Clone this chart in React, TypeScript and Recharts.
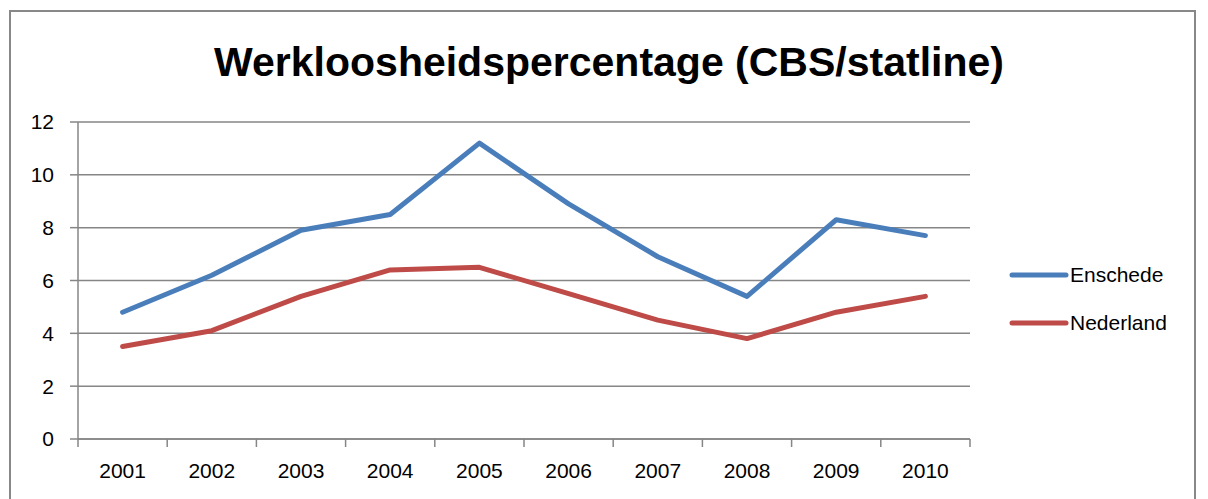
import React from 'react';
import { LineChart, Line, XAxis, YAxis, CartesianGrid } from 'recharts';

const years = ['2001', '2002', '2003', '2004', '2005', '2006', '2007', '2008', '2009', '2010'];
const enschede = [4.8, 6.2, 7.9, 8.5, 11.2, 8.9, 6.9, 5.4, 8.3, 7.7];
const nederland = [3.5, 4.1, 5.4, 6.4, 6.5, 5.5, 4.5, 3.8, 4.8, 5.4];
const yTicks = [0, 2, 4, 6, 8, 10, 12];

const data = years.map((year, i) => ({
    year,
    Enschede: enschede[i],
    Nederland: nederland[i],
}));

const series = [
    { name: 'Enschede', color: '#4A7EBB' },
    { name: 'Nederland', color: '#BE4B48' },
];

const FONT = '"Liberation Sans", Arial, sans-serif';
const AXIS = '#868686';
const PLOT_LEFT = 78;
const PLOT_RIGHT = 970;
const BAND = (PLOT_RIGHT - PLOT_LEFT) / years.length;

const XTick = (props: any) => {
    const { x, y, payload, index } = props;
    const left = x - BAND / 2;
    return (
        <g>
            <line x1={left} y1={y - 8} x2={left} y2={y} stroke={AXIS} strokeWidth={1.5} />
            {index === years.length - 1 && (
                <line x1={x + BAND / 2} y1={y - 8} x2={x + BAND / 2} y2={y} stroke={AXIS} strokeWidth={1.5} />
            )}
            <text x={x} y={y + 31} textAnchor="middle" fontSize={21} fill="#000" fontFamily={FONT}>
                {payload.value}
            </text>
        </g>
    );
};

const App: React.FC = () => {
    return (
        <div style={{ position: 'absolute', left: 0, top: 0, width: 1208, height: 499, background: '#fff', overflow: 'hidden' }}>
            <div
                style={{
                    position: 'absolute',
                    left: 9,
                    top: 10,
                    width: 1187,
                    height: 520,
                    border: '2px solid #888',
                    boxSizing: 'border-box',
                }}
            />
            <div
                style={{
                    position: 'absolute',
                    left: 0,
                    width: 1208,
                    top: 35,
                    textAlign: 'center',
                    fontFamily: FONT,
                    fontWeight: 'bold',
                    fontSize: 41,
                    lineHeight: '54px',
                    color: '#000',
                    paddingLeft: 10,
                    boxSizing: 'border-box',
                }}
            >
                Werkloosheidspercentage (CBS/statline)
            </div>
            <div style={{ position: 'absolute', left: 1008, top: 251, fontFamily: FONT, fontSize: 21, color: '#000' }}>
                {series.map((item) => (
                    <div key={item.name} style={{ display: 'flex', alignItems: 'center', height: 48 }}>
                        <svg width={62} height={10}>
                            <line x1={4} y1={5} x2={58} y2={5} stroke={item.color} strokeWidth={5} strokeLinecap="round" />
                        </svg>
                        <span>{item.name}</span>
                    </div>
                ))}
            </div>
            <div style={{ position: 'absolute', left: 0, top: 0 }}>
                <LineChart
                    width={1208}
                    height={499}
                    data={data}
                    margin={{ top: 122, right: 1208 - PLOT_RIGHT, bottom: 0, left: 10 }}
                >
                    <CartesianGrid vertical={false} stroke={AXIS} strokeWidth={1.5} />
                    <XAxis
                        dataKey="year"
                        interval={0}
                        padding={{ left: BAND / 2, right: BAND / 2 }}
                        axisLine={{ stroke: AXIS, strokeWidth: 1.5 }}
                        tickLine={false}
                        tick={<XTick />}
                        height={60}
                    />
                    <YAxis
                        width={PLOT_LEFT - 10}
                        domain={[0, 12]}
                        ticks={yTicks}
                        interval={0}
                        axisLine={{ stroke: AXIS, strokeWidth: 1.5 }}
                        tickLine={{ stroke: AXIS, strokeWidth: 1.5 }}
                        tickSize={8}
                        tickMargin={16}
                        tick={{ fill: '#000', fontSize: 21, fontFamily: FONT }}
                    />
                    {series.map((item) => (
                        <Line
                            key={item.name}
                            type="linear"
                            dataKey={item.name}
                            stroke={item.color}
                            strokeWidth={5}
                            strokeLinecap="round"
                            strokeLinejoin="round"
                            dot={false}
                            activeDot={false}
                            isAnimationActive={false}
                        />
                    ))}
                </LineChart>
            </div>
        </div>
    );
};

export default App;
